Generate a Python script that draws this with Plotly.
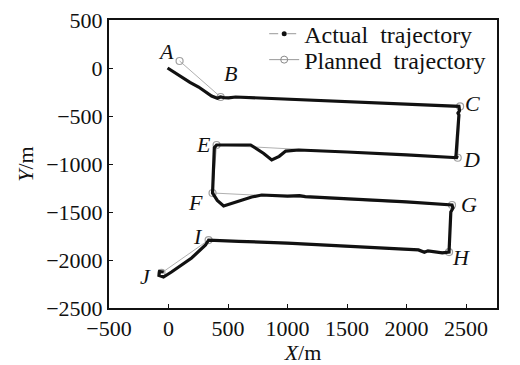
import plotly.graph_objects as go

# Planned trajectory waypoints (A..J)
planned_x = [93, 438, 2450, 2430, 404, 370, 2382, 2357, 337, -59]
planned_y = [73, -302, -400, -935, -802, -1302, -1427, -1917, -1792, -2135]

# Actual trajectory
actual_x = [-8, 40, 109, 180, 253, 310, 362, 410, 438, 470, 505, 564, 1000, 1500, 2000, 2300, 2440,
            2445, 2432, 2440, 2425, 2415, 2430,
            2200, 2000, 1500, 1094, 985, 930, 867, 800, 690, 500, 404,
            385, 380, 378, 370,
            410, 463, 699, 783, 1000, 1100, 1150, 1500, 2000, 2382,
            2390, 2372, 2365, 2357,
            2300, 2230, 2180, 2150, 2100, 1936, 1500, 1000, 589, 400, 337,
            311, 194, 25, -42, -80, -75, -40]
actual_y = [0, -40, -94, -150, -198, -250, -292, -315, -302, -310, -312, -302, -325, -350, -375, -390, -400,
            -445, -470, -490, -700, -920, -935,
            -915, -905, -875, -854, -865, -920, -958, -890, -802, -805, -802,
            -830, -1000, -1200, -1302,
            -1380, -1437, -1344, -1323, -1335, -1330, -1340, -1360, -1395, -1427,
            -1460, -1500, -1700, -1917,
            -1925, -1915, -1905, -1920, -1895, -1885, -1855, -1825, -1805, -1795, -1792,
            -1844, -1979, -2125, -2177, -2160, -2120, -2125]

# Waypoint labels
label_text = ["A", "B", "C", "D", "E", "F", "G", "H", "I", "J"]
label_x = [-17, 522, 2551, 2542, 295, 227, 2525, 2458, 244, -194]
label_y = [167, -62, -365, -948, -802, -1396, -1427, -1969, -1760, -2177]

x_ticks = [-500, 0, 500, 1000, 1500, 2000, 2500]
y_ticks = [500, 0, -500, -1000, -1500, -2000, -2500]

FONT = "Liberation Serif, Times New Roman, serif"
INK = "#111111"

fig = go.Figure()
fig.add_trace(go.Scatter(x=planned_x, y=planned_y, mode="lines+markers",
                         line=dict(color="#b0b0b0", width=1),
                         marker=dict(symbol="circle-open", size=7, color="#a0a0a0", line=dict(width=1.2)),
                         showlegend=False))
fig.add_trace(go.Scatter(x=actual_x, y=actual_y, mode="lines",
                         line=dict(color=INK, width=3.2),
                         showlegend=False))
# legend entries
fig.add_trace(go.Scatter(x=[None], y=[None], mode="lines+markers", name="Actual&nbsp;&nbsp;trajectory",
                         line=dict(color="#999999", width=1, dash="dash"),
                         marker=dict(symbol="circle", size=5, color=INK), legend="legend"))
fig.add_trace(go.Scatter(x=[None], y=[None], mode="lines+markers", name="Planned&nbsp;&nbsp;trajectory",
                         line=dict(color="#999999", width=1),
                         marker=dict(symbol="circle-open", size=7, color="#888888"), legend="legend2"))

for t, lx, ly in zip(label_text, label_x, label_y):
    fig.add_annotation(x=lx, y=ly, text="<i>%s</i>" % t, showarrow=False,
                       font=dict(family=FONT, size=22, color=INK))

axis_common = dict(showgrid=False, zeroline=False, showline=True, linecolor=INK, linewidth=2,
                   mirror=True, ticks="inside", ticklen=4, tickwidth=1.2, tickcolor=INK,
                   automargin=False,
                   tickfont=dict(family=FONT, size=22, color=INK))
fig.update_xaxes(range=[-500, 2760], tickvals=x_ticks, **axis_common,
                 title=dict(text="<i>X</i>/m", font=dict(family=FONT, size=22, color=INK), standoff=0))
fig.update_yaxes(range=[-2500, 500], tickvals=y_ticks, **axis_common,
                 title=dict(text="<i>Y</i>/m", font=dict(family=FONT, size=22, color=INK), standoff=6))

leg_common = dict(xanchor="left", yanchor="middle", bgcolor="rgba(0,0,0,0)",
                  font=dict(family=FONT, size=24, color=INK), itemwidth=30)
fig.update_layout(width=520, height=365, margin=dict(l=109, r=23, t=20, b=57),
                  plot_bgcolor="white", paper_bgcolor="white",
                  legend=dict(x=0.40, y=0.951, **leg_common),
                  legend2=dict(x=0.40, y=0.861, **leg_common))
fig.write_html("out.html", config={"displayModeBar": False},
               post_script="document.body.style.margin='0';document.body.style.overflow='hidden';")
